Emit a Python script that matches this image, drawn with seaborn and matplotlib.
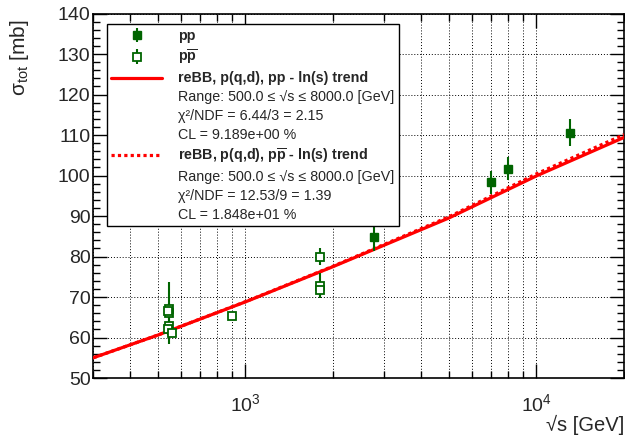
import numpy as np
import pandas as pd
import matplotlib
matplotlib.use("Agg")
import matplotlib.pyplot as plt
import seaborn as sns
from matplotlib.ticker import LogLocator, MultipleLocator, NullFormatter
from matplotlib.lines import Line2D

# ---------------- data ----------------
pp_sqrt_s = [2760, 7000, 8000, 13000]
pp_sigma = [84.7, 98.3, 101.7, 110.6]
pp_err = [3.3, 2.8, 2.9, 3.4]

ppbar_sqrt_s = [546, 546, 540, 546, 540, 560, 900, 1800, 1800, 1800]
ppbar_sigma = [67.1, 66.0, 66.5, 62.9, 62.0, 61.1, 65.3, 80.0, 72.8, 71.7]
ppbar_err = [1.4, 7.6, 1.0, 2.1, 1.5, 0.9, 0.7, 2.2, 3.1, 2.0]

curve_sqrt_s = [300, 500, 1000, 2000, 5000, 10000, 20000]
curve_pp = [55.0, 60.6, 68.8, 77.5, 89.5, 99.9, 109.4]
curve_ppbar = [55.0, 60.6, 68.85, 77.6, 89.8, 100.4, 110.1]

legend_labels = [
    "pp",
    r"p$\mathbf{\overline{p}}$",
    "reBB, p(q,d), pp - ln(s) trend",
    "Range: 500.0 \u2264 \u221as \u2264 8000.0 [GeV]",
    "\u03c7\u00b2/NDF = 6.44/3 = 2.15",
    "CL = 9.189e+00 %",
    r"reBB, p(q,d), p$\mathbf{\overline{p}}$ - ln(s) trend",
    "Range: 500.0 \u2264 \u221as \u2264 8000.0 [GeV]",
    "\u03c7\u00b2/NDF = 12.53/9 = 1.39",
    "CL = 1.848e+01 %",
]
bold_rows = [0, 1, 2, 6]

GREEN = "#006400"
RED = "#ff0000"

sns.set_style("ticks")
plt.rcParams["font.family"] = ["Liberation Sans", "DejaVu Sans"]
plt.rcParams["mathtext.fontset"] = "custom"
plt.rcParams["mathtext.rm"] = "Liberation Sans"
plt.rcParams["mathtext.it"] = "Liberation Sans:italic"
plt.rcParams["mathtext.bf"] = "Liberation Sans:bold"
plt.rcParams["mathtext.default"] = "regular"

fig = plt.figure(figsize=(6.25, 4.36), dpi=100)
ax = fig.add_axes([0.1493, 0.133, 0.8491, 0.836])

curves = pd.DataFrame({"sqrt_s": curve_sqrt_s, "pp": curve_pp, "ppbar": curve_ppbar})

ax.set_xscale("log")
ax.set_xlim(300, 20000)
ax.set_ylim(50, 140)

# grid
ax.grid(True, which="major", axis="y", color="black", linestyle=(0, (1, 2)), linewidth=0.7)
ax.grid(True, which="both", axis="x", color="black", linestyle=(0, (1, 2)), linewidth=0.7)
ax.set_axisbelow(True)

sns.lineplot(data=curves, x="sqrt_s", y="ppbar", ax=ax, color=RED, linewidth=2.3,
             linestyle=(0, (1, 1)), zorder=3)
sns.lineplot(data=curves, x="sqrt_s", y="pp", ax=ax, color=RED, linewidth=2.3, zorder=4)

eb_pp = ax.errorbar(pp_sqrt_s, pp_sigma, yerr=pp_err, fmt="s", color=GREEN,
                    markersize=6.3, elinewidth=1.5, capsize=0, zorder=5)
eb_pb = ax.errorbar(ppbar_sqrt_s, ppbar_sigma, yerr=ppbar_err, fmt="s", color=GREEN,
                    markerfacecolor="white", markeredgecolor=GREEN, markeredgewidth=1.3,
                    markersize=6.3, elinewidth=1.5, capsize=0, zorder=5)

# ticks
ax.xaxis.set_major_locator(LogLocator(base=10, numticks=10))
ax.xaxis.set_minor_locator(LogLocator(base=10, subs=np.arange(2, 10), numticks=20))
ax.xaxis.set_minor_formatter(NullFormatter())
ax.yaxis.set_major_locator(MultipleLocator(10))
ax.yaxis.set_minor_locator(MultipleLocator(2))
ax.tick_params(which="both", direction="in", top=True, right=True, width=1, color="black")
ax.tick_params(which="major", length=10)
ax.tick_params(which="minor", length=5)
ax.tick_params(axis="y", which="major", labelsize=14, pad=2)
ax.tick_params(axis="x", which="major", labelsize=14, pad=11)
for s in ax.spines.values():
    s.set_linewidth(1.2)
    s.set_color("black")

ax.set_ylabel(r"$\sigma_{tot}$ [mb]", fontsize=15, loc="top")
ax.yaxis.set_label_coords(-0.118, 0.985)
ax.set_xlabel("\u221as [GeV]", fontsize=14.5, loc="right")
ax.xaxis.set_label_coords(1.0, -0.1)

# legend
blank = Line2D([], [], color="none")
solid_h = Line2D([], [], color=RED, linewidth=2.3)
dot_h = Line2D([], [], color=RED, linewidth=2.3, linestyle=(0, (1, 1)))
handles = [eb_pp, eb_pb, solid_h, blank, blank, blank, dot_h, blank, blank, blank]
leg = ax.legend(handles, legend_labels, loc="upper left", bbox_to_anchor=(0.025, 0.97),
                borderaxespad=0, fontsize=10.3, frameon=True, fancybox=False,
                edgecolor="black", framealpha=1, handlelength=3.6, handletextpad=1.1,
                labelspacing=0.33, borderpad=0.3, handleheight=0.6)
leg.get_frame().set_linewidth(1.0)
for i, t in enumerate(leg.get_texts()):
    if i in bold_rows:
        t.set_fontweight("bold")

fig.savefig("out.png", dpi=100)
